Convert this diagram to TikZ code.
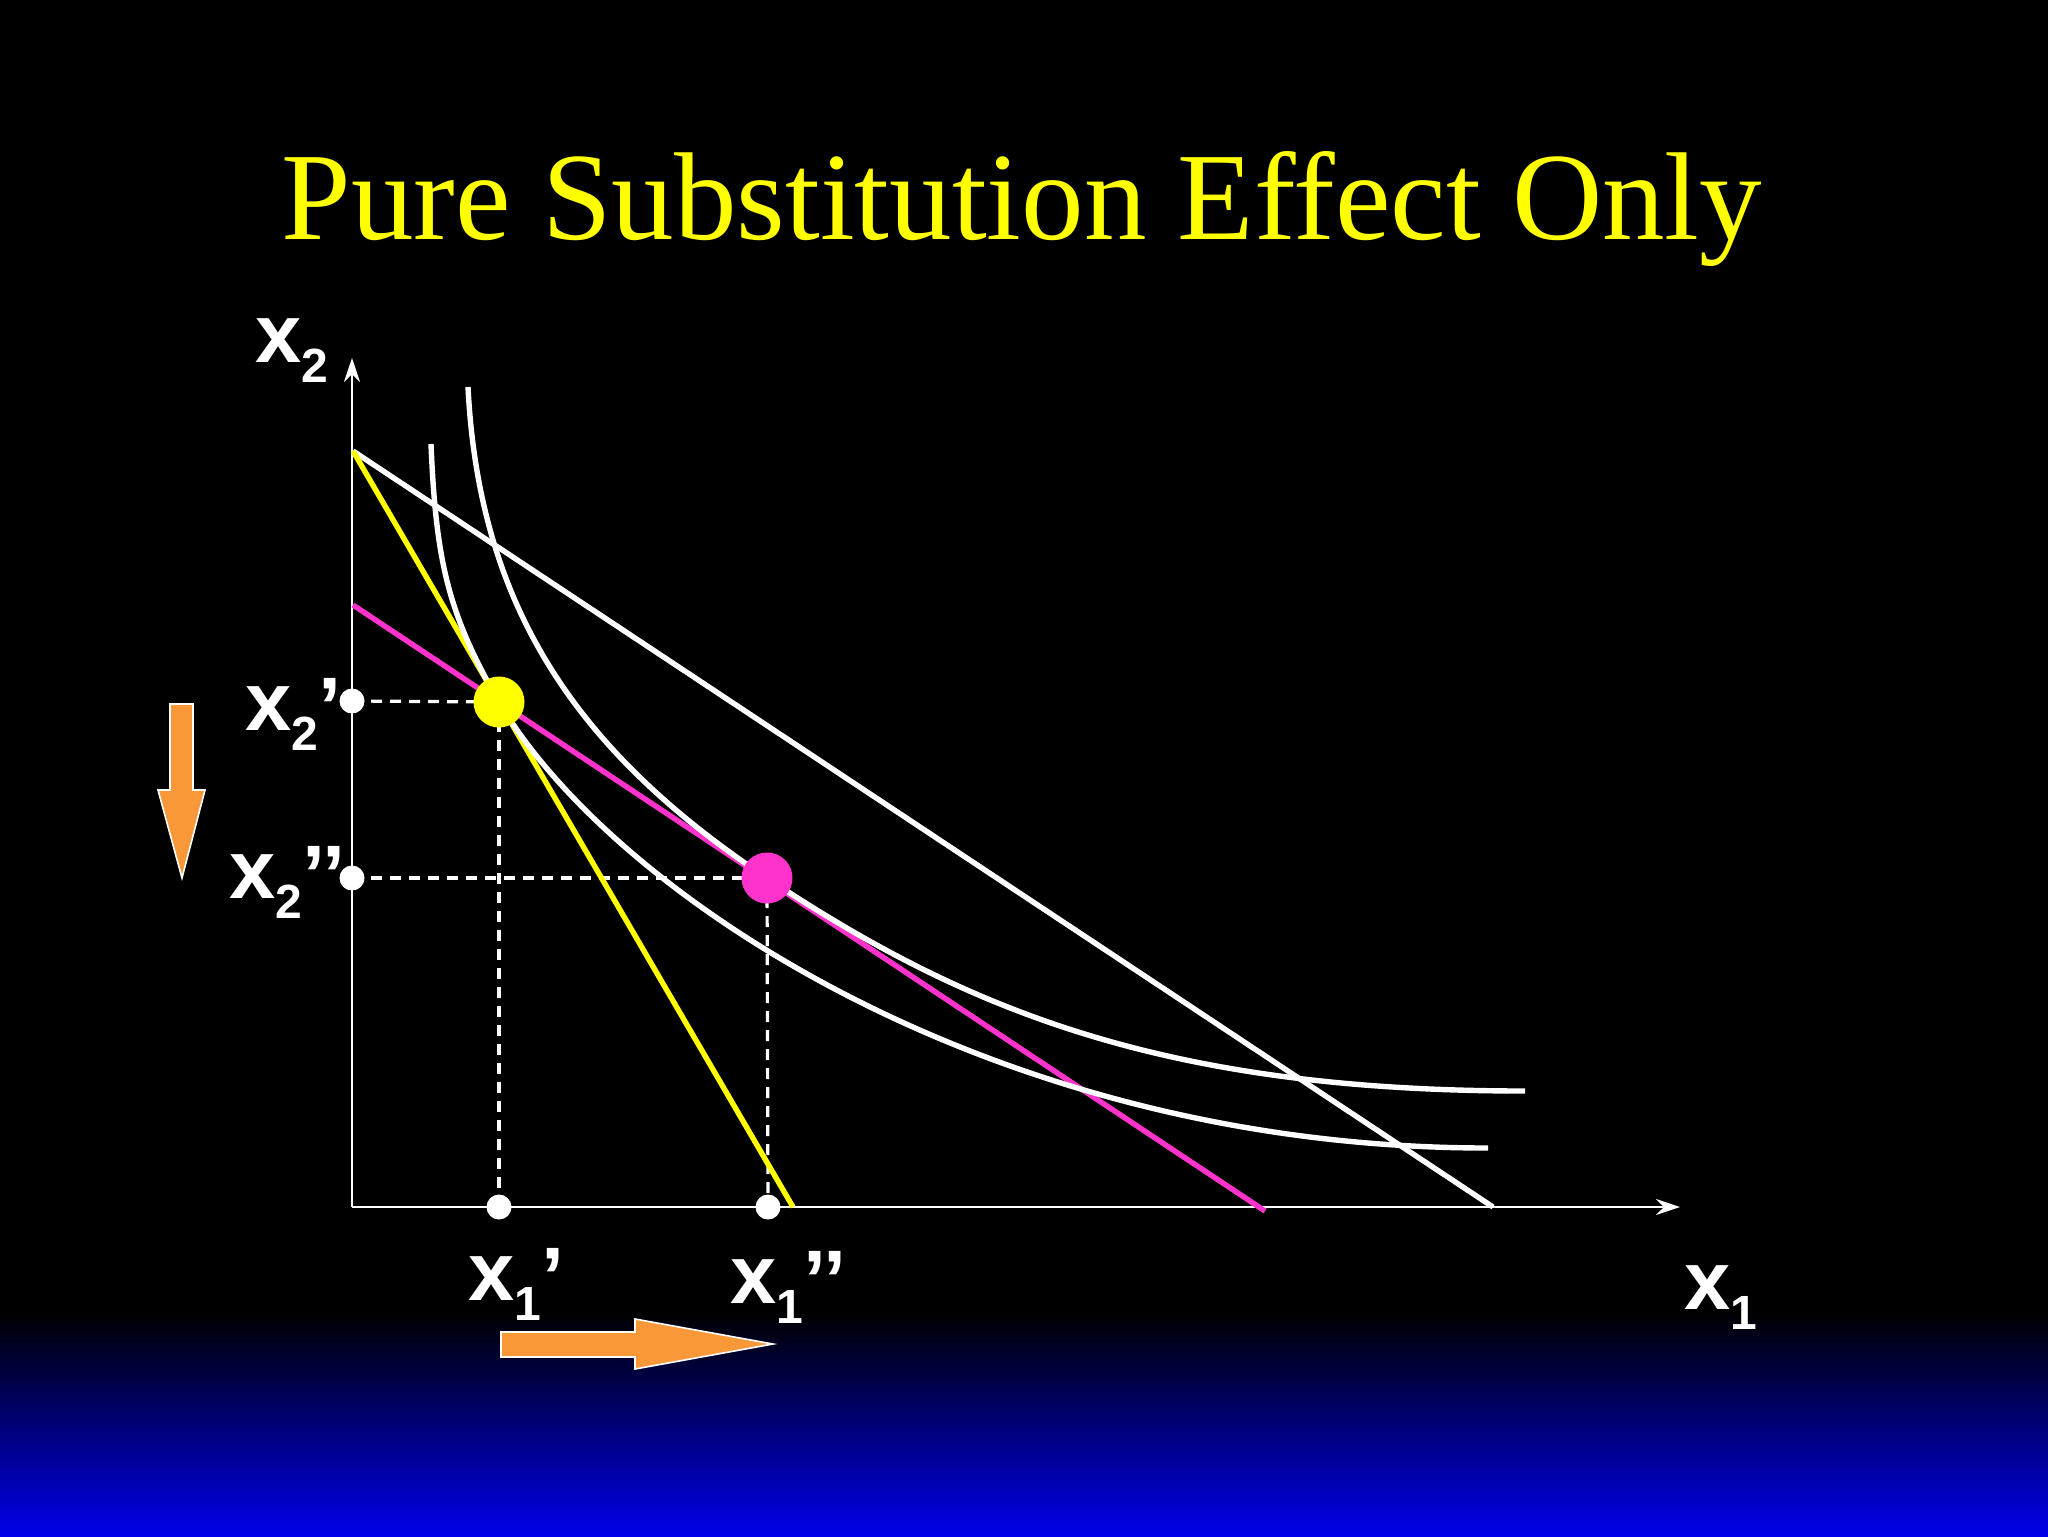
\documentclass[tikz,border=0pt]{standalone}
\usepackage{fontspec}
\setmainfont{Liberation Serif}
\newfontfamily\labfont{Liberation Sans}
\usetikzlibrary{arrows.meta}
\definecolor{myorange}{RGB}{248,152,56}
\definecolor{mymagenta}{RGB}{255,51,204}
\definecolor{myyellow}{RGB}{255,255,0}
\definecolor{myblue}{RGB}{0,0,235}
\newcommand{\xlab}[2]{{\labfont\bfseries\fontsize{41.5}{45}\selectfont x\raisebox{-10pt}{\fontsize{24}{26}\selectfont #1}\raisebox{-2.5pt}{#2}}}
\begin{document}
\begin{tikzpicture}[x=0.5pt,y=-0.5pt,
  axisline/.style={white, line width=1.4pt, -{Stealth[length=12pt,width=8pt,inset=4pt]}},
  budgetline/.style={line width=2.7pt},
  icurve/.style={white, line width=2.7pt},
  guideline/.style={white, line width=1.6pt, dash pattern=on 5.5pt off 4pt},
  whitedot/.style={circle, fill=white, inner sep=0pt, minimum size=12.5pt},
  bundledot/.style={circle, inner sep=0pt, minimum size=25.5pt},
  axlabel/.style={text=white, inner sep=0pt, anchor=base west},
  shiftarrow/.style={fill=myorange, draw=white, line width=0.8pt, line join=miter}]
\useasboundingbox (0,0) rectangle (2048,1536);
\fill[black] (0,0) rectangle (2048,1536);
\shade[top color=black, bottom color=myblue] (0,1312) rectangle (2048,1536);

% title
\node[text=myyellow, inner sep=0pt, anchor=base] (title) at (1022,239)
  {\fontsize{62.5}{70}\selectfont Pure Substitution Effect Only};

% coordinates
\coordinate (O) at (352,1207);
\coordinate (ytop) at (352,358);
\coordinate (xend) at (1680,1207);
\coordinate (Y0) at (353,451);
\coordinate (Yend) at (793,1207);
\coordinate (Wend) at (1493,1207);
\coordinate (M0) at (353,605);
\coordinate (Mend) at (1265,1211);
\coordinate (A) at (499,702);
\coordinate (B) at (767,878);
\coordinate (t2a) at (352,701);
\coordinate (t2b) at (352,878);
\coordinate (t1a) at (499,1207);
\coordinate (t1b) at (768,1207);
\coordinate (I1top) at (431,444);
\coordinate (I1end) at (1488,1148);
\coordinate (I2top) at (468,387);
\coordinate (I2end) at (1525,1091);

% axes
\draw[axisline] (O) -- (ytop);
\draw[axisline] (O) -- (xend);

% guides
\draw[guideline] (t2a) -- (A);
\draw[guideline] (A) -- (t1a);
\draw[guideline] (t2b) -- (B);
\draw[guideline] (B) -- (t1b);

% budget lines
\draw[budgetline, white] (Y0) -- (Wend);
\draw[budgetline, myyellow] (Y0) -- (Yend);
\draw[budgetline, mymagenta] (M0) -- (Mend);

% indifference curves
\draw[icurve] (I1top) .. controls (436,564) and (449,615) .. (A)
  .. controls (609,890) and (988,1148) .. (I1end);
\draw[icurve] (I2top) .. controls (479,607) and (577,752) .. (B)
  .. controls (967,1011) and (1165,1091) .. (I2end);

% dots
\node[whitedot] (d2a) at (t2a) {};
\node[whitedot] (d2b) at (t2b) {};
\node[whitedot] (d1a) at (t1a) {};
\node[whitedot] (d1b) at (t1b) {};
\node[bundledot, fill=myyellow] (dA) at (A) {};
\node[bundledot, fill=mymagenta] (dB) at (B) {};

% labels
\node[axlabel] (lx2) at (255,362) {\xlab{2}{}};
\node[axlabel] (lx2a) at (245,730) {\xlab{2}{’}};
\node[axlabel] (lx2b) at (229,898) {\xlab{2}{’’}};
\node[axlabel] (lx1a) at (468,1300) {\xlab{1}{’}};
\node[axlabel] (lx1b) at (730,1303) {\xlab{1}{’’}};
\node[axlabel] (lx1) at (1684,1309) {\xlab{1}{}};

% shift arrows
\draw[shiftarrow] (170,704) -- (193,704) -- (193,790) -- (205,790) -- (182,878) -- (158,790) -- (170,790) -- cycle;
\draw[shiftarrow] (501,1332) -- (635,1332) -- (635,1319) -- (773,1344) -- (635,1369) -- (635,1357) -- (501,1357) -- cycle;
\end{tikzpicture}
\end{document}
